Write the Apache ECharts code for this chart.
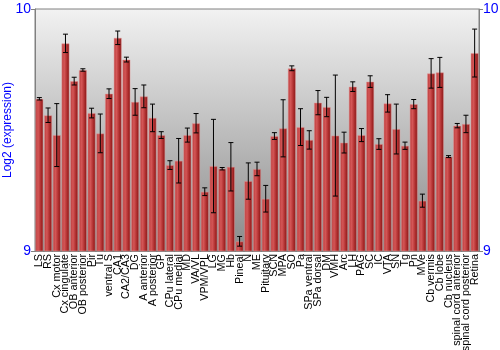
<!DOCTYPE html>
<html><head><meta charset="utf-8">
<script src="https://cdn.jsdelivr.net/npm/echarts@6/dist/echarts.min.js"></script>
<style>html,body{margin:0;padding:0;background:#fff}#c{width:500px;height:350px}</style>
</head><body><div id="c"></div>
<script>
const categories = ["LS","RS","Cx motor","Cx cingulate","OB anterior","OB posterior","Pir","Tu","ventral S","CA1","CA2/CA3","DG","A anterior","A posterior","GP","CPu lateral","CPu medial","MD","VA/VL","VPM/VPL","LG","MG","Hb","Pineal","N","ME","Pituitary","SCN","MPA","SO","Pa","SPa ventral","SPa dorsal","DM","VMH","Arc","LH","PAG","SC","IC","VTA","SN","Tg","Pn","MVe","Cb vermis","Cb lobe","Cb nucleus","spinal cord anterior","spinal cord posterior","Retina"];
const values = [9.629,9.561,9.479,9.858,9.702,9.748,9.570,9.486,9.650,9.881,9.791,9.616,9.639,9.550,9.479,9.355,9.373,9.479,9.528,9.245,9.351,9.340,9.348,9.040,9.289,9.339,9.216,9.475,9.507,9.755,9.512,9.459,9.613,9.595,9.477,9.448,9.679,9.479,9.700,9.442,9.610,9.504,9.435,9.607,9.208,9.734,9.738,9.390,9.518,9.525,9.818];
const errors = [0.005,0.03,0.13,0.038,0.016,0.005,0.02,0.08,0.02,0.028,0.01,0.055,0.047,0.057,0.014,0.018,0.092,0.029,0.04,0.016,0.193,0.005,0.1,0.02,0.075,0.028,0.055,0.014,0.118,0.01,0.076,0.038,0.05,0.04,0.25,0.043,0.02,0.027,0.024,0.022,0.036,0.103,0.015,0.019,0.027,0.061,0.062,0.004,0.009,0.036,0.099];
const yTicks = [9, 10];

const chart = echarts.init(document.getElementById('c'), null, {renderer:'canvas'});
const errData = values.map((v,i)=>[i, v-errors[i], v+errors[i]]);
const blue = '#0000ff';
const font = 'Liberation Sans, Arial, sans-serif';
chart.setOption({
  animation:false,
  grid:{left:35,right:21,top:9,bottom:99,containLabel:false,outerBoundsMode:'none',show:true,borderColor:'#808080',borderWidth:1,
    backgroundColor:{type:'linear',x:0,y:0,x2:0,y2:1,colorStops:[{offset:0,color:'#f2f2f2'},{offset:1,color:'#8a8a8a'}]}},
  xAxis:{type:'category',data:categories,
    axisLine:{show:true,lineStyle:{color:'#808080'}},
    axisTick:{show:false},
    axisLabel:{rotate:90,interval:0,fontSize:10.8,color:'#000',margin:3,fontFamily:font}},
  yAxis:[
    {type:'value',min:9,max:10,interval:1,splitLine:{show:false},
     axisLine:{show:true,lineStyle:{color:'#808080'}},axisTick:{show:true,length:4,lineStyle:{color:'#808080'}},
     axisLabel:{color:blue,fontSize:14,fontFamily:font,margin:4,formatter:v=>yTicks.includes(v)?String(v):''},
     name:'Log2 (expression)',nameLocation:'middle',nameGap:21,nameMoveOverlap:false,nameTextStyle:{color:blue,fontSize:12,fontFamily:font}},
    {type:'value',min:9,max:10,interval:1,position:'right',splitLine:{show:false},
     axisLine:{show:true,lineStyle:{color:'#808080'}},axisTick:{show:true,length:4,lineStyle:{color:'#808080'}},
     axisLabel:{color:blue,fontSize:14,fontFamily:font,margin:4,formatter:v=>yTicks.includes(v)?String(v):''}}
  ],
  series:[
    {type:'bar',data:values,barCategoryGap:'8%',
     itemStyle:{color:{type:'linear',x:0,y:0,x2:1,y2:0,colorStops:[
       {offset:0,color:'#b83a3a'},{offset:0.35,color:'#d45656'},{offset:0.75,color:'#a82828'},{offset:1,color:'#7a1515'}]},
       borderColor:'rgba(230,150,150,0.6)',borderWidth:0.8}},
    {type:'custom',data:errData,z:10,
     renderItem:function(params,api){
       const x=api.value(0);
       const lo=api.coord([x,api.value(1)]);
       const hi=api.coord([x,api.value(2)]);
       const w=2.5;
       const st={stroke:'#000',lineWidth:1};
       return {type:'group',children:[
         {type:'line',shape:{x1:lo[0],y1:lo[1],x2:hi[0],y2:hi[1]},style:st},
         {type:'line',shape:{x1:lo[0]-w,y1:lo[1],x2:lo[0]+w,y2:lo[1]},style:st},
         {type:'line',shape:{x1:hi[0]-w,y1:hi[1],x2:hi[0]+w,y2:hi[1]},style:st}
       ]};
     }}
  ]
});
</script></body></html>
